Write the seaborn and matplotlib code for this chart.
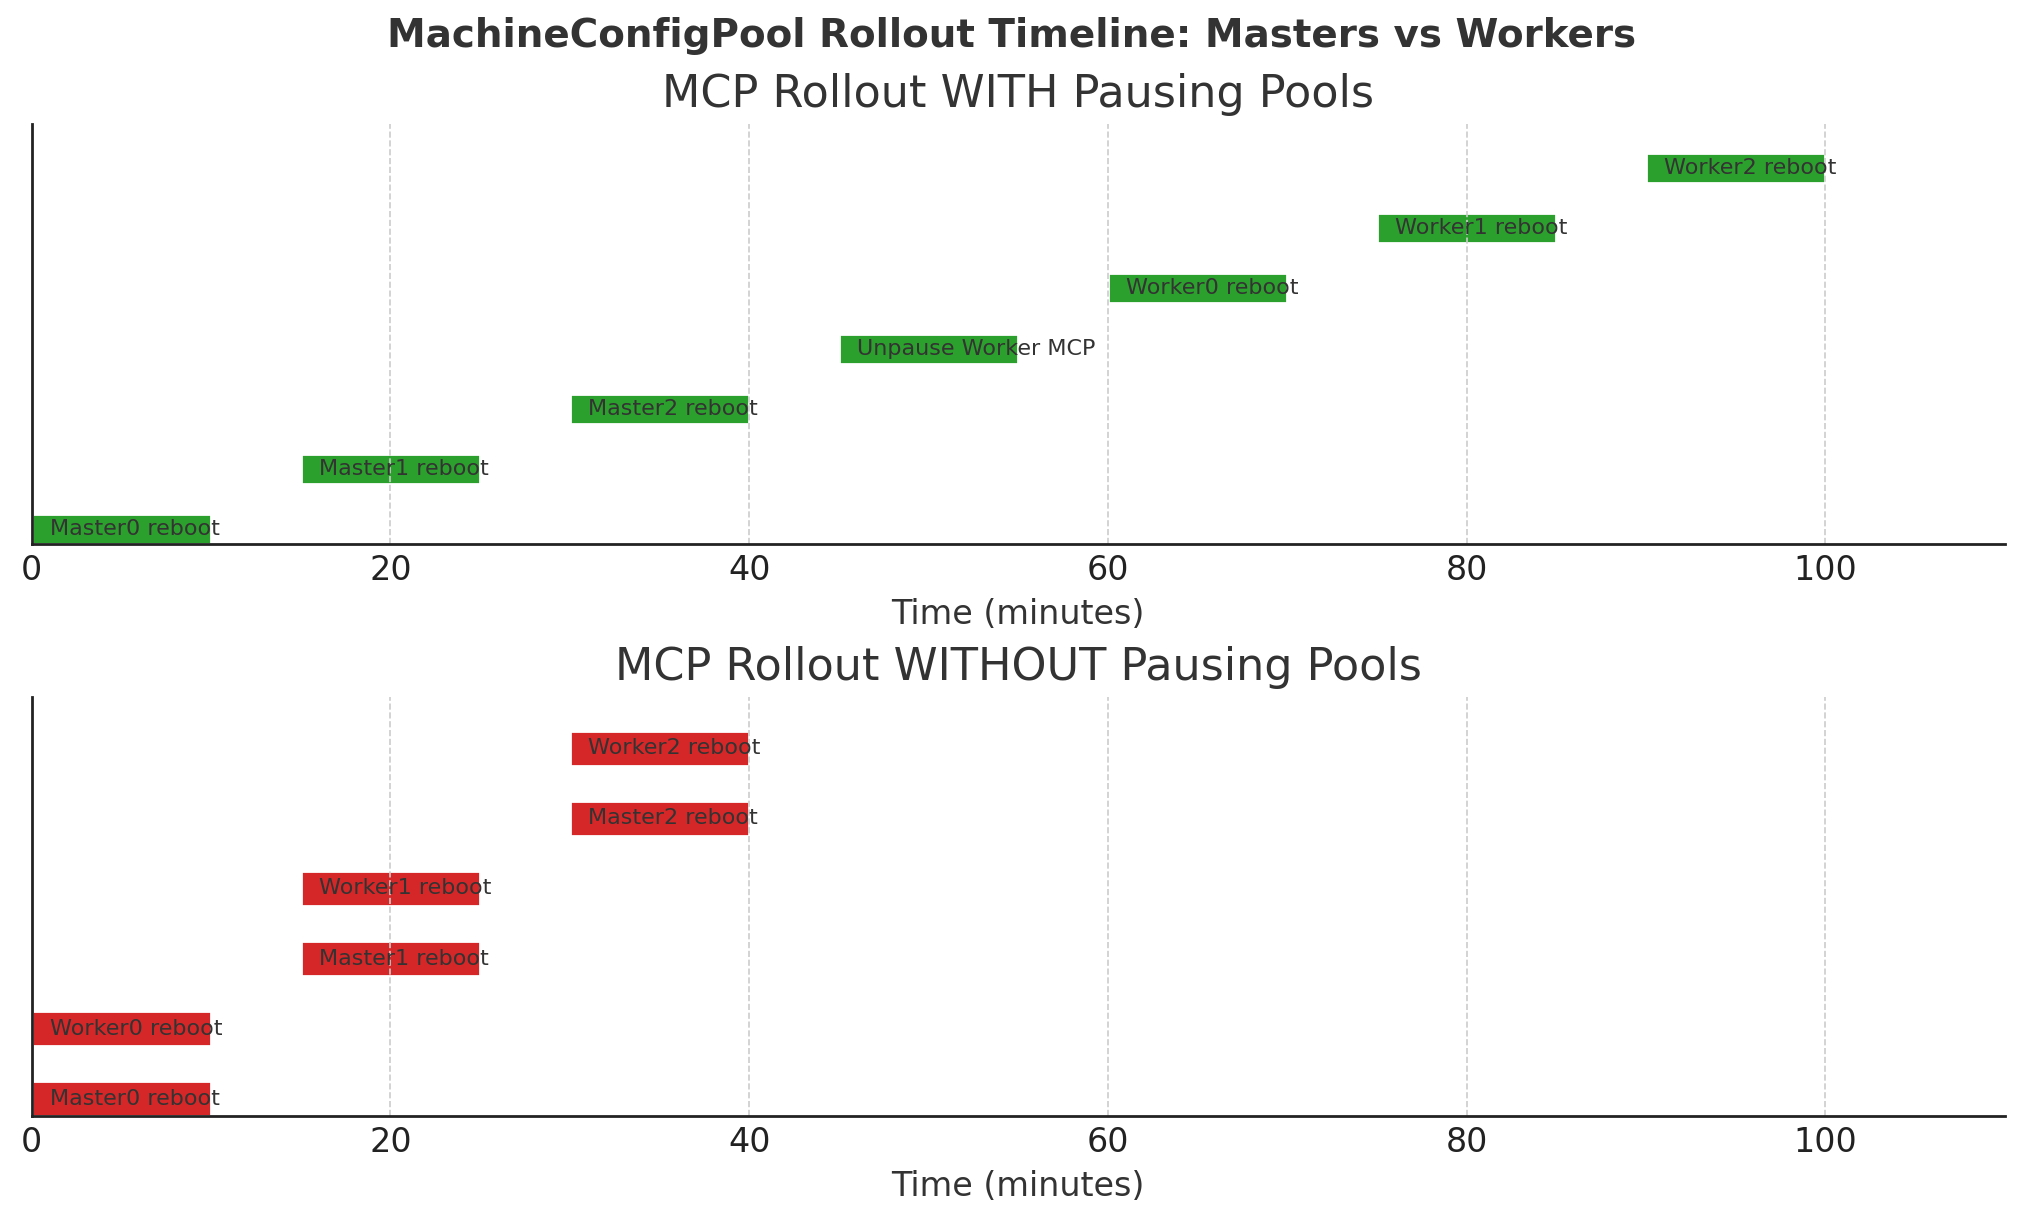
import seaborn as sns
import matplotlib.pyplot as plt

# === Data ===
with_tasks = ["Master0 reboot", "Master1 reboot", "Master2 reboot", "Unpause Worker MCP",
              "Worker0 reboot", "Worker1 reboot", "Worker2 reboot"]
with_start = [0, 15, 30, 45, 60, 75, 90]
with_duration = [10, 10, 10, 10, 10, 10, 10]

without_tasks = ["Master0 reboot", "Worker0 reboot", "Master1 reboot",
                 "Worker1 reboot", "Master2 reboot", "Worker2 reboot"]
without_start = [0, 0, 15, 15, 30, 30]
without_duration = [10, 10, 10, 10, 10, 10]

x_ticks = [0, 20, 40, 60, 80, 100]

# === Style ===
sns.set_theme(style="white")
plt.rcParams["font.family"] = ["DejaVu Sans"]
plt.rcParams["axes.axisbelow"] = "line"
text_color = "#333333"

fig = plt.figure(figsize=(10.115, 6.115), dpi=200)
ax1 = fig.add_axes([0.0157, 0.5549, 0.9753, 0.3437])
ax2 = fig.add_axes([0.0157, 0.0872, 0.9753, 0.3429])


def draw_timeline(ax, tasks, starts, durations, color, title):
    ypos = list(range(len(tasks)))
    ax.barh(ypos, durations, left=starts, height=0.5, color=color, zorder=1)
    for y, s, t in zip(ypos, starts, tasks):
        ax.text(s + 1, y, t, va="center", ha="left", fontsize=8, color=text_color, zorder=3)
    ax.set_xlim(0, 110)
    ax.set_ylim(-0.25, len(tasks) - 1 + 0.73)
    ax.set_yticks([])
    ax.set_xticks(x_ticks)
    ax.tick_params(axis="x", direction="in", length=3.5, width=1, labelsize=12,
                   colors="#222222", pad=3.5)
    ax.xaxis.grid(True, linestyle="--", color="#cccccc", linewidth=0.6)
    ax.yaxis.grid(False)
    for side in ["top", "right"]:
        ax.spines[side].set_visible(False)
    for side in ["left", "bottom"]:
        ax.spines[side].set_color("#222222")
        ax.spines[side].set_linewidth(1)
    ax.set_xlabel("Time (minutes)", fontsize=12, color=text_color, labelpad=4)
    ax.set_title(title, fontsize=16, color=text_color, pad=6)


draw_timeline(ax1, with_tasks, with_start, with_duration, "#2ca02c", "MCP Rollout WITH Pausing Pools")
draw_timeline(ax2, without_tasks, without_start, without_duration, "#d62728", "MCP Rollout WITHOUT Pausing Pools")

fig.suptitle("MachineConfigPool Rollout Timeline: Masters vs Workers", fontsize=14,
             fontweight="bold", color=text_color, y=0.9706, va="center")

plt.savefig("out.png", dpi=200)
